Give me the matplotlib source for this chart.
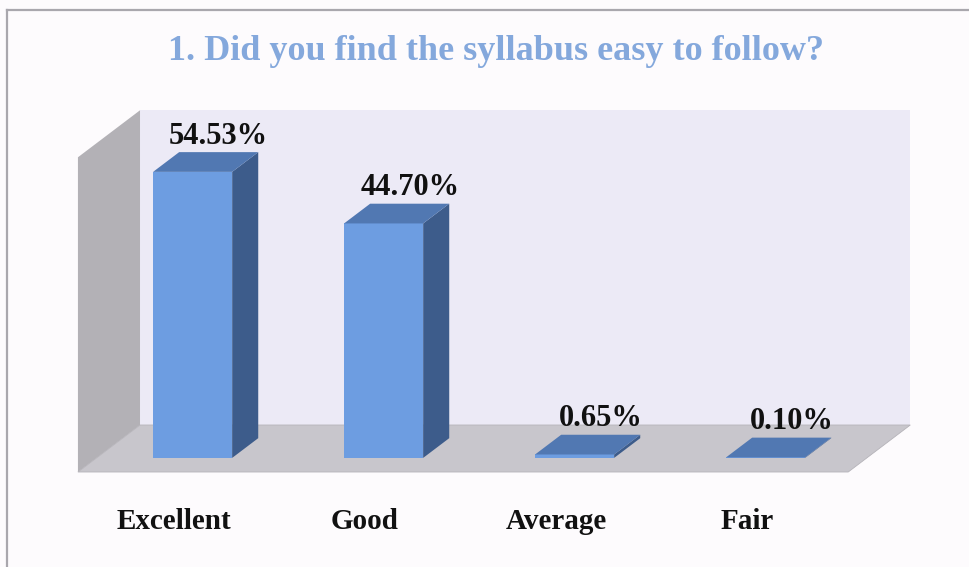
import matplotlib
matplotlib.use("Agg")
import matplotlib.pyplot as plt
from matplotlib.patches import Polygon

# ---- data ----
categories = ["Excellent", "Good", "Average", "Fair"]
values = [54.53, 44.70, 0.65, 0.10]
value_labels = ["54.53%", "44.70%", "0.65%", "0.10%"]
title = "1. Did you find the syllabus easy to follow?"
axis_max = 60

# ---- style ----
SERIF = ["Liberation Serif", "DejaVu Serif"]
bg = "#fdfbfd"
wall_back = "#eceaf6"
wall_side = "#b3b1b6"
floor_col = "#c8c6cc"
bar_front = "#6d9de1"
bar_side = "#3d5c8b"
bar_top = "#5178b2"
title_col = "#84a8dc"

# oblique projection: depth offset (in data units) for full depth
DX = 0.325     # category units
DZ = 8.96      # percent units
BAR_W = 0.414
D0, D1 = 0.30, 0.72
X_LEFT, X_RIGHT = -0.503, 3.53


def P(x, z, d):
    return (x + d * DX, z + d * DZ)


fig = plt.figure(figsize=(9.7, 5.67), dpi=100, facecolor=bg)
ax = fig.add_axes([60 / 970, 17 / 567, 880 / 970, 450 / 567])
ax.set_xlim(-0.5969, 4.0105)
ax.set_ylim(-14.87, 70.92)
ax.axis("off")
ax.set_facecolor(bg)

# frame border of the picture (top and left)
fig.add_artist(plt.Line2D([7 / 970, 7 / 970], [0, 1 - 10 / 567], color="#a9a7ad",
                          lw=1.6, transform=fig.transFigure))
fig.add_artist(plt.Line2D([7 / 970, 1], [1 - 10 / 567, 1 - 10 / 567], color="#a9a7ad",
                          lw=1.6, transform=fig.transFigure))

# back wall
ax.add_patch(Polygon([P(X_LEFT, 0, 1), P(X_RIGHT, 0, 1), P(X_RIGHT, axis_max, 1),
                      P(X_LEFT, axis_max, 1)], closed=True, fc=wall_back, ec="none"))
# side wall
ax.add_patch(Polygon([P(X_LEFT, 0, 0), P(X_LEFT, 0, 1), P(X_LEFT, axis_max, 1),
                      P(X_LEFT, axis_max, 0)], closed=True, fc=wall_side, ec="none"))
# floor
ax.add_patch(Polygon([P(X_LEFT, 0, 0), P(X_RIGHT, 0, 0), P(X_RIGHT, 0, 1),
                      P(X_LEFT, 0, 1)], closed=True, fc=floor_col, ec="#b5b3b9", lw=0.6))

for i, (v, lab) in enumerate(zip(values, value_labels)):
    xl, xr = i - BAR_W / 2, i + BAR_W / 2
    front = [P(xl, 0, D0), P(xr, 0, D0), P(xr, v, D0), P(xl, v, D0)]
    side = [P(xr, 0, D0), P(xr, 0, D1), P(xr, v, D1), P(xr, v, D0)]
    top = [P(xl, v, D0), P(xr, v, D0), P(xr, v, D1), P(xl, v, D1)]
    ax.add_patch(Polygon(side, closed=True, fc=bar_side, ec="none"))
    ax.add_patch(Polygon(front, closed=True, fc=bar_front, ec="none"))
    ax.add_patch(Polygon(top, closed=True, fc=bar_top, ec="none"))
    tx, ty = P(i, v, D1)
    ax.annotate(lab, (tx, ty), xytext=(0, 1), textcoords="offset points",
                ha="center", va="bottom", fontsize=22, fontweight="bold",
                family=SERIF, color="#111111")

for i, c in enumerate(categories):
    ax.text(i, -9.5, c, ha="center", va="center", fontsize=21, fontweight="bold",
            family=SERIF, color="#111111")

fig.text(0.511, 1 - 52 / 567, title, ha="center", va="center", fontsize=26,
         fontweight="bold", family=SERIF, color=title_col)

fig.savefig("out.png", dpi=100, facecolor=bg)
